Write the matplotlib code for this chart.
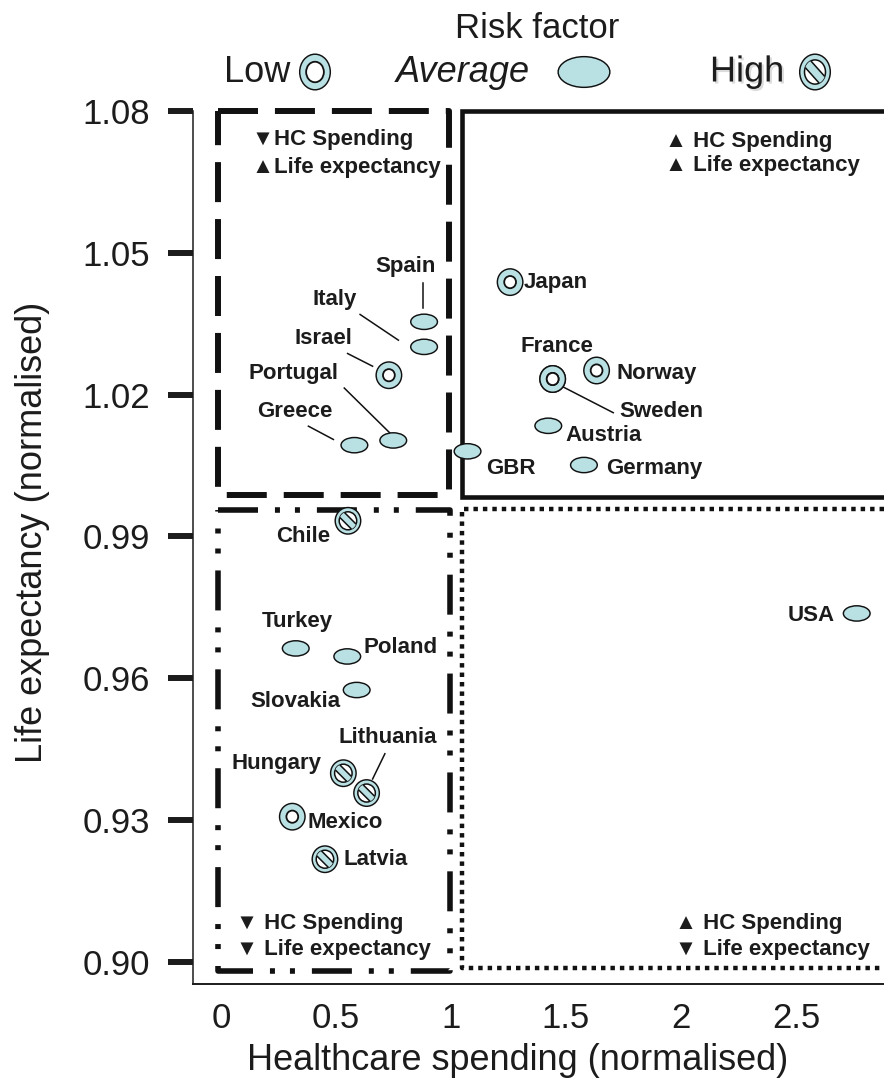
import matplotlib
matplotlib.use('Agg')
import matplotlib.pyplot as plt
from matplotlib.patches import Ellipse, Polygon
from matplotlib.lines import Line2D
from matplotlib.transforms import Affine2D, ScaledTranslation
import matplotlib.patheffects as pe
import numpy as np

plt.rcParams['font.family'] = ['Liberation Sans', 'DejaVu Sans']
plt.rcParams['lines.scale_dashes'] = False

# ---------------- data ----------------
countries = ['Spain', 'Italy', 'Israel', 'Portugal', 'Greece', 'GBR', 'Japan',
             'France', 'Sweden', 'Norway', 'Austria', 'Germany', 'Chile', 'USA',
             'Turkey', 'Poland', 'Slovakia', 'Hungary', 'Lithuania', 'Mexico', 'Latvia']
hc_spending = [0.883, 0.883, 0.730, 0.749, 0.580, 1.072, 1.257,
               1.442, 1.442, 1.633, 1.423, 1.578, 0.552, 2.764,
               0.325, 0.549, 0.590, 0.532, 0.633, 0.310, 0.452]
life_expectancy = [1.0354, 1.0301, 1.0241, 1.0103, 1.0093, 1.0080, 1.0438,
                   1.0233, 1.0233, 1.0251, 1.0134, 1.0051, 0.9933, 0.9737,
                   0.9663, 0.9646, 0.9575, 0.9399, 0.9357, 0.9307, 0.9217]
risk = ['Average', 'Average', 'Low', 'Average', 'Average', 'Average', 'Low',
        'Low', 'Low', 'Low', 'Average', 'Average', 'High', 'Average',
        'Average', 'Average', 'Average', 'High', 'High', 'Low', 'High']

x_ticks = [0, 0.5, 1, 1.5, 2, 2.5]
x_tick_labels = ['0', '0.5', '1', '1.5', '2', '2.5']
x_tick_marks = [0.5, 1.5, 2, 2.5]
y_ticks = [0.90, 0.93, 0.96, 0.99, 1.02, 1.05, 1.08]
y_tick_labels = ['0.90', '0.93', '0.96', '0.99', '1.02', '1.05', '1.08']

# label placement (pixel offsets, y downwards) and leader lines
label_style = {
    'Spain': (-19, -55, 'center', ((-1.3, -38.7), (-1.3, -13.7))),
    'Italy': (-89.7, -47.7, 'center', ((-64, -32.4), (-25.7, -6.7))),
    'Israel': (-65.7, -36.7, 'center', ((-41.3, -21.7), (-16.3, -9))),
    'Portugal': (-100, -67.4, 'center', ((-49, -52.4), (-2.6, -6.7))),
    'Greece': (-59.3, -33.3, 'center', ((-46, -19), (-21, -5.7))),
    'GBR': (18.2, 17, 'left', None),
    'Japan': (14, 0, 'left', None),
    'France': (4.6, -32.3, 'center', None),
    'Sweden': (66.3, 32.7, 'left', ((10, 7.7), (60.6, 33.7))),
    'Norway': (20, 2.6, 'left', None),
    'Austria': (16.7, 9.3, 'left', None),
    'Germany': (21.7, 3.3, 'left', None),
    'Chile': (-18, 16, 'right', None),
    'USA': (-21.7, 1.7, 'right', None),
    'Turkey': (1.6, -26.6, 'center', None),
    'Poland': (16.7, -9, 'left', None),
    'Slovakia': (-16.7, 11.7, 'right', None),
    'Hungary': (-21.6, -10, 'right', None),
    'Lithuania': (21, -55.6, 'center', ((18.3, -39.3), (6, -14))),
    'Mexico': (15, 6, 'left', None),
    'Latvia': (18.3, 0.7, 'left', None),
}

FILL = '#b9e1e4'
INK = '#1c1c1c'
EDGE = '#111111'

W, H = 884, 1078
DPI = 100
fig = plt.figure(figsize=(W / DPI, H / DPI), dpi=DPI)
ax = fig.add_axes([193 / W, (H - 984) / H, (884 - 193) / W, (984 - 111) / H])
XMIN, XMAX = -0.1217, 2.8826
YMIN, YMAX = 0.8953, 1.08
ax.set_xlim(XMIN, XMAX)
ax.set_ylim(YMIN, YMAX)
s = fig.dpi / 100.0

for side in ['top', 'right']:
    ax.spines[side].set_visible(False)
ax.spines['left'].set_linewidth(1.1)
ax.spines['bottom'].set_linewidth(1.4)
ax.spines['left'].set_color(INK)
ax.spines['bottom'].set_color(INK)

ax.set_yticks(y_ticks)
ax.set_yticklabels(y_tick_labels)
ax.tick_params(axis='y', length=18, width=4.3, pad=13, labelsize=25,
               direction='out', color=INK, labelcolor=INK)
ax.set_xticks(x_ticks)
ax.set_xticklabels(x_tick_labels)
ax.tick_params(axis='x', which='major', length=0, pad=13, labelsize=25, labelcolor=INK)
ax.set_xticks(x_tick_marks, minor=True)
ax.tick_params(axis='x', which='minor', length=8.6, width=3.6, color=INK, direction='out')

ax.set_xlabel('Healthcare spending (normalised)', fontsize=26, color=INK)
ax.xaxis.set_label_coords((518 - 193) / 691, (984 - 1060) / 873)
ax.xaxis.label.set_va('center')
ax.set_ylabel('Life expectancy (normalised)', fontsize=26, color=INK)
ax.yaxis.set_label_coords((33 - 193) / 691, (984 - 532) / 873)
ax.yaxis.label.set_va('center')

# ---------------- quadrant boxes ----------------
tl = dict(x0=-0.015, x1=0.993, y0=0.9988, y1=1.08)
ax.plot([tl['x0'], tl['x1'], tl['x1'], tl['x0'], tl['x0']],
        [tl['y1'], tl['y1'], tl['y0'], tl['y0'], tl['y1']],
        color=EDGE, lw=4.3, linestyle=(0, (28.8, 12.2)),
        solid_capstyle='butt', dash_capstyle='butt', clip_on=False, zorder=2)
tr = dict(x0=1.048, y0=0.9983, y1=1.08)
ax.plot([XMAX, tr['x0'], tr['x0'], XMAX], [tr['y1'], tr['y1'], tr['y0'], tr['y0']],
        color=EDGE, lw=3.3, solid_joinstyle='miter', clip_on=False, zorder=2)
bl = dict(x0=-0.011, x1=0.996, y0=0.8981, y1=0.9956)
ax.plot([bl['x0'], bl['x1'], bl['x1'], bl['x0'], bl['x0']],
        [bl['y1'], bl['y1'], bl['y0'], bl['y0'], bl['y1']],
        color=EDGE, lw=4.0,
        linestyle=(0, (28.8, 12.2, 3.6, 10.8, 3.6, 12.2)),
        dash_capstyle='butt', clip_on=False, zorder=2)
br = dict(x0=1.05, y0=0.8987, y1=0.9958)
ax.plot([XMAX, br['x0'], br['x0'], XMAX], [br['y1'], br['y1'], br['y0'], br['y0']],
        color=EDGE, lw=3.2, linestyle=(0, (3.2, 3.6)),
        dash_capstyle='butt', clip_on=False, zorder=2)


# ---------------- markers ----------------
def draw_marker(kind, base, container, size=1.0, sy=1.0, inner_scale=1.0):
    """Draw a marker; shapes in pixel units (y down) relative to the point."""
    t = Affine2D().scale(s * size, -s * size * sy) + base
    arts = []
    if kind == 'Average':
        arts.append(Ellipse((0, 0), 26.7, 15.3, facecolor=FILL, edgecolor=EDGE,
                            lw=1.05, transform=t, clip_on=False, zorder=5))
    elif kind == 'Low':
        arts.append(Ellipse((0, 0), 25.5, 26.5, facecolor=FILL, edgecolor=EDGE,
                            lw=1.05, transform=t, clip_on=False, zorder=5))
        arts.append(Ellipse((0, 0), 11.8 * inner_scale, 12.2 * inner_scale,
                            facecolor='white', edgecolor=EDGE,
                            lw=1.3, transform=t, clip_on=False, zorder=6))
    else:
        arts.append(Ellipse((0, 0), 25.5, 26.5, facecolor=FILL, edgecolor=EDGE,
                            lw=1.05, transform=t, clip_on=False, zorder=5))
        inner = Ellipse((0, 0), 17.5, 18.0, facecolor='white', edgecolor=EDGE,
                        lw=1.1, transform=t, clip_on=False, zorder=6)
        arts.append(inner)
        u = np.array([1, 1]) / np.sqrt(2)
        n = np.array([1, -1]) / np.sqrt(2)
        L, w = 12.0, 3.4
        pts = [L * u + w * n, -L * u + w * n, -L * u - w * n, L * u - w * n]
        band = Polygon(pts, closed=True, facecolor=FILL, edgecolor=EDGE, lw=1.1,
                       transform=t, zorder=7)
        band.set_clip_path(inner)
        arts.append(band)
    for a in arts:
        container.add_artist(a)


for name, x, y, r in zip(countries, hc_spending, life_expectancy, risk):
    base = ScaledTranslation(x, y, ax.transData)
    draw_marker(r, base, ax)
    dx, dy, ha, leader = label_style[name]
    ax.annotate(name, xy=(x, y), xytext=(dx * s, -dy * s), textcoords='offset pixels',
                ha=ha, va='center', fontsize=16, fontweight='bold', color=INK,
                annotation_clip=False, zorder=8)
    if leader is not None:
        (x0, y0), (x1, y1) = leader
        ln = Line2D([x0, x1], [y0, y1], color=EDGE, lw=1.1,
                    transform=Affine2D().scale(s, -s) + base, clip_on=False, zorder=4)
        ax.add_artist(ln)

# ---------------- quadrant annotations ----------------
def ftext(px, py, txt, **kw):
    fig.text(px / W, 1 - py / H, txt, **kw)

qkw = dict(fontsize=16, fontweight='bold', color=INK, va='center', ha='left')
ftext(252, 140, '\u25bcHC Spending', **qkw)
ftext(252, 168, '\u25b2Life expectancy', **qkw)
ftext(665, 142, '\u25b2 HC Spending', **qkw)
ftext(665, 166, '\u25b2 Life expectancy', **qkw)
ftext(236, 923, '\u25bc HC Spending', **qkw)
ftext(236, 949, '\u25bc Life expectancy', **qkw)
ftext(675, 923, '\u25b2 HC Spending', **qkw)
ftext(675, 949, '\u25bc Life expectancy', **qkw)

# ---------------- risk legend ----------------
ftext(537.5, 28, 'Risk factor', fontsize=25, color=INK, ha='center', va='center')
ftext(290, 72, 'Low', fontsize=26, color=INK, ha='right', va='center')
ftext(463, 72, 'Average', fontsize=26, color=INK, ha='center', va='center', style='italic')
ftext(747, 72, 'High', fontsize=26, color=INK, ha='center', va='center',
      path_effects=[pe.withSimplePatchShadow(offset=(1.5, -1.5), shadow_rgbFace='#999999',
                                             alpha=0.35)])

def fig_base(px, py):
    return Affine2D().translate(px * s, (H - py) * s)

draw_marker('Low', fig_base(315, 72), fig, size=1.2, sy=1.12, inner_scale=1.25)
fig.add_artist(Ellipse((0, 0), 51.7, 30.7, facecolor=FILL, edgecolor=EDGE, lw=1.05,
                       transform=Affine2D().scale(s, -s) + fig_base(584, 72), zorder=5))
draw_marker('High', fig_base(815, 72), fig, size=1.2, sy=1.12)

fig.savefig('out.png', dpi=DPI)
